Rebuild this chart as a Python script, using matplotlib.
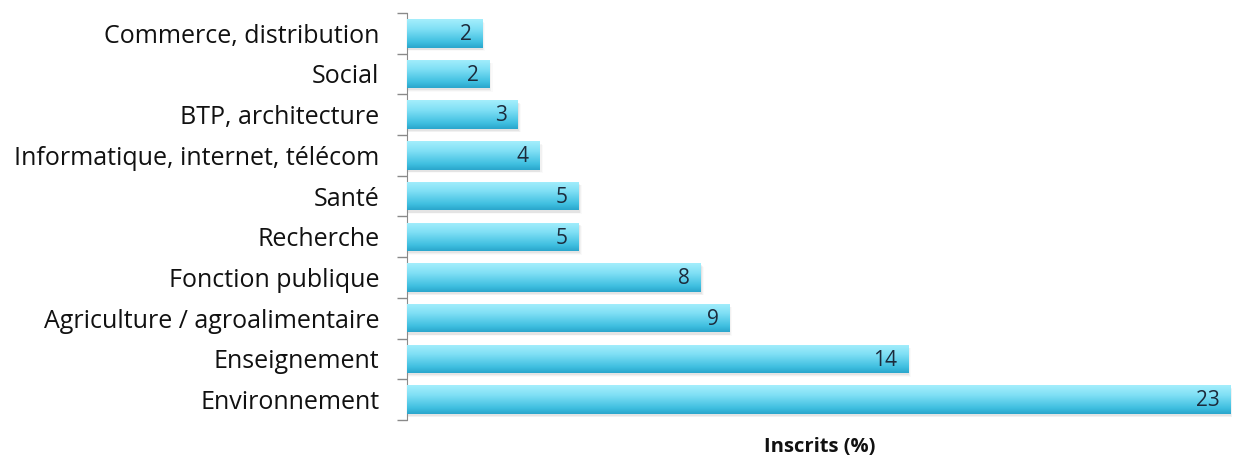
import numpy as np
import matplotlib
matplotlib.use("Agg")
import matplotlib.pyplot as plt
from matplotlib.colors import LinearSegmentedColormap

categories = ["Commerce, distribution", "Social", "BTP, architecture",
              "Informatique, internet, télécom", "Santé", "Recherche",
              "Fonction publique", "Agriculture / agroalimentaire",
              "Enseignement", "Environnement"]
values = [2.1, 2.3, 3.1, 3.7, 4.8, 4.8, 8.2, 9.0, 14.0, 23.0]
value_labels = ["2", "2", "3", "4", "5", "5", "8", "9", "14", "23"]
axis_title = "Inscrits (%)"

plt.rcParams['font.family'] = ['Open Sans', 'DejaVu Sans']

fig = plt.figure(figsize=(12.34, 4.62), dpi=100)
ax = fig.add_axes([0.3298, 0.091, 0.6686, 0.881])

cmap = LinearSegmentedColormap.from_list(
    "cyan", [(0.0, "#a4eefc"), (0.35, "#7fdff5"), (0.8, "#3fbfe0"), (1.0, "#2aa6cc")])
grad = np.linspace(0, 1, 64).reshape(-1, 1)

h = 0.7
y = np.arange(len(categories))
bars = ax.barh(y, values, height=h, color="none", edgecolor="none", zorder=3)
for i, (b, v) in enumerate(zip(bars, values)):
    for k, a in enumerate([0.10, 0.07, 0.04]):
        off = 0.03 * (k + 1)
        ax.barh(i + 0.04 + off * 0.5, v + 0.03 * (k + 1), height=h, color="#808080",
                alpha=a, edgecolor="none", zorder=2)
    im = ax.imshow(grad, cmap=cmap, aspect="auto",
                   extent=[0, v, i + h / 2, i - h / 2], zorder=3)
    im.set_clip_path(b)
    ax.text(v - 0.3, i + 0.03, value_labels[i], ha="right", va="center",
            fontsize=15, color="#1c2b3c", zorder=4)

ax.set_ylim(len(categories) - 0.5, -0.5)
ax.set_xlim(0, 23.05)
ax.set_yticks(y)
ax.set_yticklabels(categories, fontsize=18, color="#111111")
ax.set_yticks(np.arange(len(categories) + 1) - 0.5, minor=True)
ax.tick_params(axis="y", which="major", length=0, pad=20)
ax.tick_params(axis="y", which="minor", length=7, width=1, color="#8a8a8a")
ax.set_xticks([])
for s in ["top", "right", "bottom"]:
    ax.spines[s].set_visible(False)
ax.spines["left"].set_color("#8a8a8a")
ax.set_xlabel(axis_title, fontsize=14.5, fontweight="bold", labelpad=12, color="#111111")

fig.savefig("out.png", dpi=100, facecolor="white")
